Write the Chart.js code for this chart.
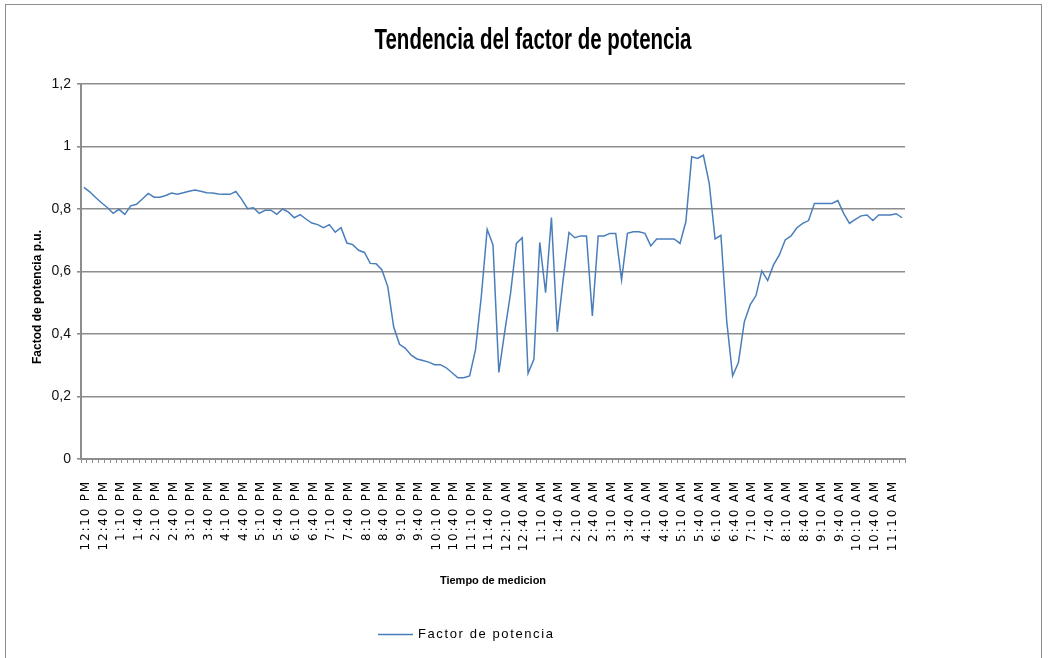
<!DOCTYPE html>
<html>
<head>
<meta charset="utf-8">
<title>Tendencia del factor de potencia</title>
<script src="https://cdn.jsdelivr.net/npm/chart.js@4/dist/chart.umd.min.js"></script>
<style>
html,body{margin:0;padding:0;background:#fff}
canvas{display:block}
</style>
</head>
<body>
<canvas id="fpChart" width="1054" height="658"></canvas>
<script>
const titulo="Tendencia del factor de potencia"
const tituloY="Factod de potencia p.u."
const tituloX="Tiempo de medicion"
const serie="Factor de potencia"

// mediciones cada 10 minutos, desde las 12:10 PM
const horaInicio=[12,10,"PM"]
const pasoMin=10

const factorPotencia=[
0.869,0.855,0.837,0.820,0.805,0.786,0.799,0.783,0.810,0.815,0.832,0.850,
0.838,0.838,0.843,0.851,0.847,0.852,0.857,0.861,0.857,0.852,0.851,0.848,
0.847,0.847,0.856,0.831,0.801,0.804,0.786,0.796,0.796,0.783,0.800,0.790,
0.772,0.782,0.768,0.755,0.750,0.740,0.750,0.726,0.740,0.691,0.686,0.668,
0.661,0.626,0.625,0.605,0.551,0.423,0.367,0.354,0.332,0.320,0.315,0.310,
0.302,0.302,0.292,0.276,0.260,0.260,0.266,0.349,0.520,0.735,0.685,
0.277,0.407,0.530,0.690,0.708,0.274,0.319,0.693,0.532,0.773,0.407,0.573,
0.725,0.708,0.714,0.714,0.458,0.714,0.714,0.722,0.722,0.573,0.722,
0.727,0.727,0.722,0.682,0.704,0.704,0.704,0.704,0.690,0.759,0.967,0.962,
0.972,0.882,0.704,0.716,0.440,0.266,0.309,0.439,0.493,0.523,0.602,0.571,
0.621,0.653,0.701,0.714,0.740,0.754,0.763,0.818,0.818,0.818,0.818,0.827,
0.786,0.754,0.767,0.778,0.781,0.763,0.781,0.781,0.781,0.785,0.772
]

const yTicks=[0,0.2,0.4,0.6,0.8,1,1.2]

function armarHoras(n){
let h=horaInicio[0]%12+(horaInicio[2]==="PM"?12:0)
let m=horaInicio[1]
const out=[]
for(let i=0;i<n;i++){
const h12=h%12===0?12:h%12
out.push(h12+":"+String(m).padStart(2,"0")+" "+(h<12?"AM":"PM"))
m+=pasoMin
if(m>=60){m-=60;h=(h+1)%24}
}
return out
}

const horas=armarHoras(factorPotencia.length)

const gris="#8d8d8d"

// etiquetas del eje x con letras separadas
const ejeEspaciado={
id:"ejeEspaciado",
beforeDraw(chart){
const sc=chart.scales.x
if(sc.$espaciado) return
const dibujar=sc.drawLabels
sc.drawLabels=function(area){
this.ctx.save()
this.ctx.letterSpacing="1.8px"
dibujar.call(this,area)
this.ctx.restore()
}
sc.$espaciado=true
}
}

// marco, titulo, titulo del eje y y leyenda
const textos={
id:"textos",
afterDraw(chart){
const ctx=chart.ctx
ctx.save()

ctx.strokeStyle=gris
ctx.lineWidth=1
ctx.strokeRect(5.5,4.5,1036,700)

ctx.fillStyle="#000"
ctx.textAlign="center"
ctx.textBaseline="middle"
ctx.font='bold 29px "Liberation Sans Narrow","Liberation Sans",sans-serif'
let w=ctx.measureText(titulo).width
ctx.save()
ctx.translate(533,41)
ctx.scale(Math.min(1,317/w),1)
ctx.fillText(titulo,0,0)
ctx.restore()

ctx.font='bold 12px "Liberation Sans",Arial,sans-serif'
ctx.save()
ctx.translate(38,297)
ctx.rotate(-Math.PI/2)
ctx.fillText(tituloY,0,0)
ctx.restore()

const ds=chart.data.datasets[0]
ctx.strokeStyle=ds.borderColor
ctx.lineWidth=1.5
ctx.beginPath()
ctx.moveTo(378,634.5)
ctx.lineTo(413,634.5)
ctx.stroke()
ctx.textAlign="left"
ctx.font='13px "Liberation Sans",Arial,sans-serif'
ctx.letterSpacing="1.6px"
ctx.fillText(ds.label,418,634)

ctx.restore()
}
}

new Chart(document.getElementById("fpChart"),{
type:"line",
data:{
labels:horas,
datasets:[{
label:serie,
data:factorPotencia,
borderColor:"#4a7ebb",
borderWidth:1.5,
pointRadius:0,
tension:0,
fill:false
}]
},
options:{
responsive:false,
animation:false,
layout:{padding:{left:0,right:149,top:84,bottom:59}},
plugins:{legend:{display:false},title:{display:false},tooltip:{enabled:false}},
scales:{
x:{
offset:true,
afterFit(s){s.height=140},
grid:{drawOnChartArea:false,offset:true,tickLength:4,color:gris,lineWidth:1},
border:{color:gris,width:2},
ticks:{
autoSkip:false,
minRotation:90,
maxRotation:90,
padding:17,
labelOffset:2,
color:"#000",
font:{family:'"DejaVu Sans",Verdana,sans-serif',size:12},
callback(v,i){return i%3===0?this.getLabelForValue(v):""}
},
title:{display:true,text:tituloX,color:"#000",padding:{top:0,bottom:11},
font:{family:'"Liberation Sans",Arial,sans-serif',size:11,weight:"bold"}}
},
y:{
min:0,
max:1.2,
afterFit(s){s.width=81},
afterBuildTicks(s){s.ticks=yTicks.map(v=>({value:v}))},
grid:{color:gris,lineWidth:1.6,tickLength:4},
border:{color:gris,width:2},
ticks:{
padding:6,
color:"#111",
font:{family:'"Liberation Sans",Arial,sans-serif',size:14},
callback(v){return String(Math.round(v*10)/10).replace(".",",")}
}
}
}
},
plugins:[ejeEspaciado,textos]
})
</script>
</body>
</html>
